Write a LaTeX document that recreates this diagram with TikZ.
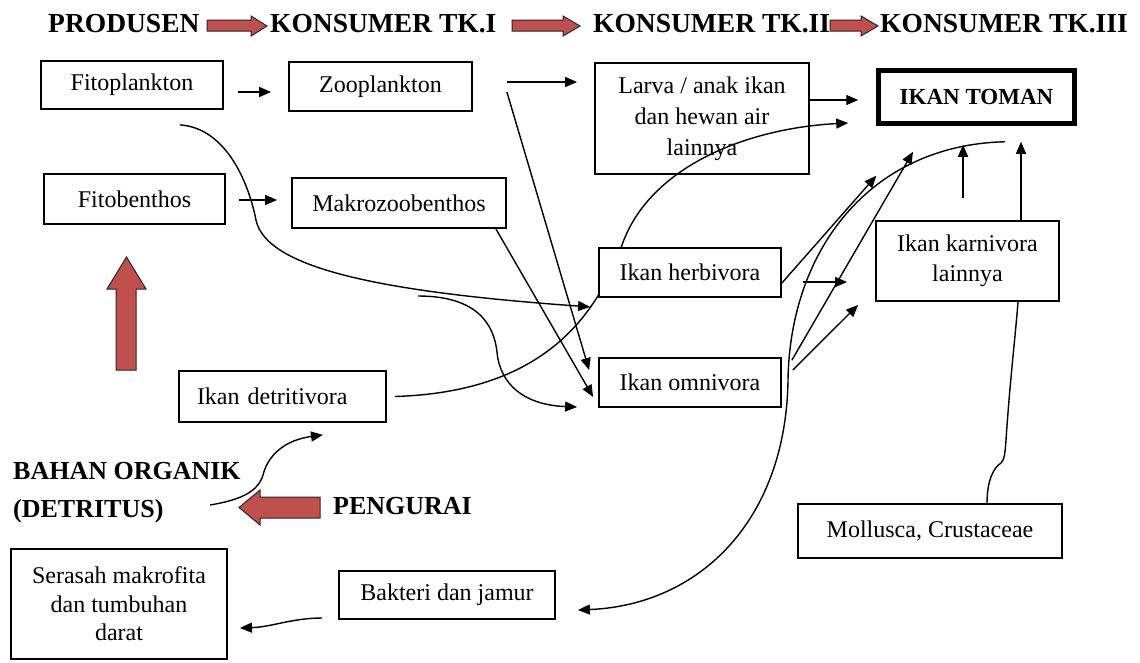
\documentclass[tikz,border=0pt]{standalone}
\usepackage{fontspec}
\setmainfont{Liberation Serif}
\usepackage{xcolor}
\usetikzlibrary{arrows.meta,backgrounds}

\definecolor{arrowred}{RGB}{192,80,77}

\begin{document}
\begin{tikzpicture}[
    x=1pt, y=-1pt,
    >={Triangle[length=12pt,width=10pt]},
    box/.style={draw, line width=1.8pt, fill=white, align=center, inner sep=0pt,
                font=\fontsize{24}{30}\selectfont},
    boss/.style={box, line width=4.5pt, font=\fontsize{23}{28}\selectfont\bfseries},
    head/.style={font=\fontsize{27.5}{33}\selectfont\bfseries, inner sep=0pt,
                 anchor=north west},
    side/.style={font=\fontsize{26}{38}\selectfont\bfseries, inner sep=0pt,
                 anchor=north west, align=left},
    link/.style={->, line width=1.4pt},
    plain/.style={line width=1.4pt},
    redarrow/.style={fill=arrowred, draw=black!85, line width=1pt},
  ]
    \useasboundingbox (0,0) rectangle (1140,662);

    % --- trophic levels (title row) ---
    \node[head] (prod) at (48,14) {PRODUSEN};
    \node[head] (tk1) at (270,14) {KONSUMER TK.I};
    \node[head] (tk2) at (593,14) {KONSUMER TK.II};
    \node[head] (tk3) at (880,14) {KONSUMER TK.III};
    \draw[redarrow] (207,20) -- (251,20) -- (251,16) -- (267,26) -- (251,36) -- (251,31) -- (207,31) -- cycle;
    \draw[redarrow] (512,20) -- (563,20) -- (563,16) -- (580,26) -- (563,36) -- (563,31) -- (512,31) -- cycle;
    \draw[redarrow] (830,20) -- (861,20) -- (861,16) -- (878,26) -- (861,36) -- (861,31) -- (830,31) -- cycle;

    % --- boxes ---
    \node[box, minimum width=182pt, minimum height=48pt] (fito) at (132,85) {Fitoplankton};
    \node[box, minimum width=183pt, minimum height=49pt] (zoo) at (380.5,86.5) {Zooplankton};
    \node[box, minimum width=181pt, minimum height=50pt] (fitob) at (134.5,199) {Fitobenthos};
    \node[box, minimum width=214pt, minimum height=50pt] (makro) at (399,203) {Makrozoobenthos};
    \node[box, fill=none, minimum width=214pt, minimum height=111pt,
          font=\fontsize{24}{31}\selectfont] (larva) at (702,118.5)
      {Larva / anak ikan\\dan hewan air\\lainnya};
    \node[boss, minimum width=196pt, minimum height=53pt] (toman) at (976.5,97) {IKAN TOMAN};
    \node[box, minimum width=183pt, minimum height=80pt] (karni) at (967.5,261)
      {Ikan karnivora\\lainnya};
    \node[box, minimum width=182pt, minimum height=49pt] (herbi) at (690,272.5) {Ikan herbivora};
    \node[box, minimum width=182pt, minimum height=49pt] (omni) at (690,382.5) {Ikan omnivora};
    \node[box, minimum width=207pt, minimum height=51pt, align=left, text width=171pt,
          inner xsep=18pt] (detri) at (282.5,396.5) {Ikan detritivora};
    \node[box, minimum width=264pt, minimum height=54pt] (moll) at (930,531) {Mollusca, Crustaceae};
    \node[box, minimum width=216pt, minimum height=110pt,
          font=\fontsize{24}{28.5}\selectfont] (serasah) at (119,604)
      {Serasah makrofita\\dan tumbuhan\\darat};
    \node[box, minimum width=216pt, minimum height=48pt] (bakteri) at (447,595) {Bakteri dan jamur};

    % --- detritus loop ---
    \node[side] (organik) at (13,462) {BAHAN ORGANIK\\(DETRITUS)};
    \node[side] (pengurai) at (333,497) {PENGURAI};
    \draw[redarrow] (126.5,257) -- (146,289) -- (136,289) -- (136,370) -- (116,370) -- (116,289) -- (107,289) -- cycle;
    \draw[redarrow] (239,507.5) -- (260,490) -- (260,497) -- (320,497) -- (320,518) -- (260,518) -- (260,525) -- cycle;
    \coordinate (organik-out) at (210,505);
    \coordinate (fork) at (418,296);

    % --- feeding links ---
    \begin{scope}[on background layer]
    \draw[link, shorten <=14pt, shorten >=17pt] ([yshift=-7pt]fito.east) -- ([yshift=-5.5pt]zoo.west);
    \draw[link, shorten <=13pt, shorten >=14pt] ([yshift=-1pt]fitob.east) -- ([yshift=3pt]makro.west);
    \draw[link, shorten <=34pt, shorten >=17pt] ([yshift=4.5pt]zoo.east) -- ([yshift=36.5pt]larva.west);
    \draw[link] ([xshift=34pt,yshift=-5.5pt]zoo.east) -- ([xshift=-9pt,yshift=12.5pt]omni.west);
    \draw[link] ([xshift=-11pt]makro.south east) -- ([xshift=-5pt,yshift=-14.5pt]omni.west);
    \draw[link] ([xshift=48pt,yshift=-15pt]fito.south)
      .. controls (225,128) and (248,180) .. (256,220)
      .. controls (266,268) and (380,292) .. ([xshift=-8pt,yshift=-9pt]herbi.south west);
    \draw[link] (fork) .. controls (478,296) and (494,325) .. (497,352)
      .. controls (500,385) and (525,405) .. ([xshift=-21pt,yshift=-24.5pt]omni.west);
    \draw[link] ([xshift=8pt]detri.east)
      .. controls (540,392) and (595,320) .. (622,245)
      .. controls (650,165) and (750,128) .. ([xshift=-28pt,yshift=-26pt]toman.west);
    \draw[link, shorten >=18pt] ([yshift=18.5pt]larva.east) -- ([yshift=-3pt]toman.west);
    \draw[link] ([yshift=-10.5pt]herbi.east) -- ([yshift=-50pt]toman.south west);
    \draw[link, shorten <=21pt, shorten >=28pt] ([yshift=-9.5pt]herbi.east) -- ([yshift=-21pt]karni.west);
    \draw[link] ([xshift=10pt,yshift=-3pt]omni.north east) -- ([xshift=-63.5pt,yshift=-26pt]toman.south);
    \draw[link] ([xshift=11pt,yshift=12.5pt]omni.east) -- ([xshift=-17pt,yshift=-3pt]karni.south west);
    \draw[link] ([xshift=-4.5pt,yshift=22pt]karni.north) -- ([xshift=-13.5pt,yshift=-19pt]toman.south);
    \draw[link] ([xshift=53.5pt]karni.north) -- ([xshift=44.5pt,yshift=-16pt]toman.south);
    \draw[link] ([xshift=28.5pt,yshift=-16pt]toman.south)
      .. controls (870,145) and (790,250) .. (788,380)
      .. controls (786,520) and (700,605) .. ([xshift=22pt,yshift=-15pt]bakteri.east);
    \draw[plain] ([xshift=57pt]moll.north)
      .. controls (987,480) and (994,467) .. (1001,463)
      .. controls (1004,460) and (1005,455) .. (1006,440)
      .. controls (1010,380) and (1015,340) .. ([xshift=50.5pt]karni.south);
    \draw[link] ([xshift=-16pt,yshift=-23pt]bakteri.west)
      .. controls (292,618) and (272,627) .. ([xshift=12pt,yshift=-24pt]serasah.east);
    \draw[link] (organik-out) .. controls (240,500) and (258,492) .. (263,475)
      .. controls (268,455) and (285,440) .. ([xshift=40.5pt,yshift=-12pt]detri.south);
    \end{scope}
\end{tikzpicture}
\end{document}
